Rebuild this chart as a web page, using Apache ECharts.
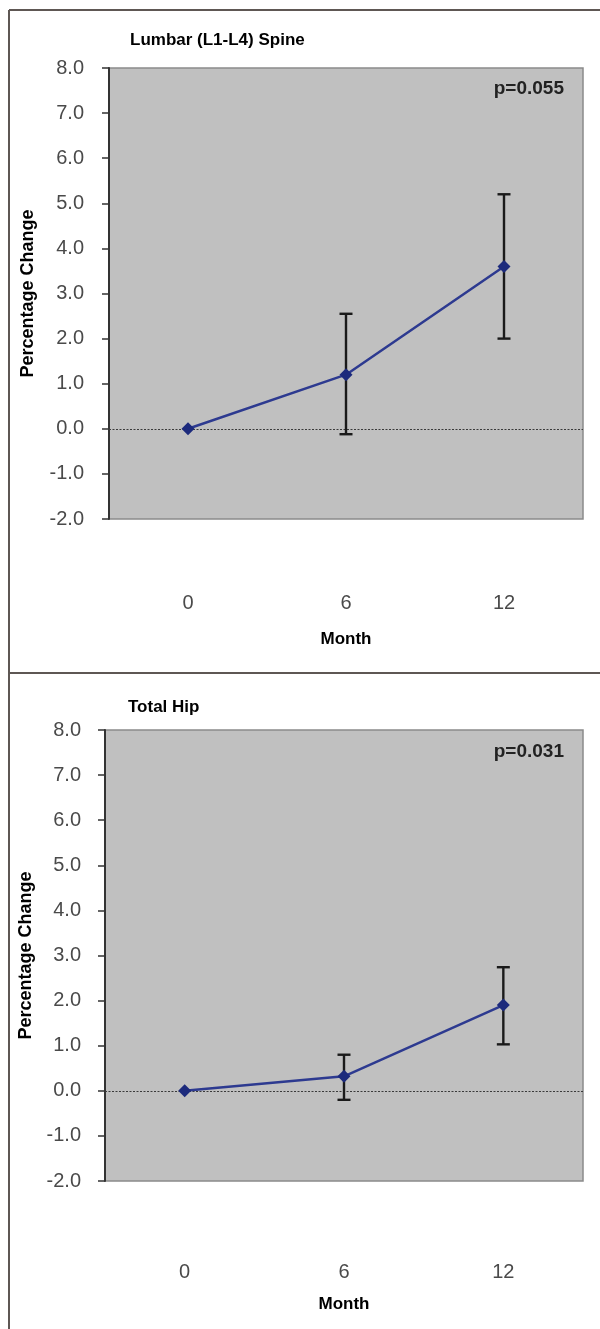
<!DOCTYPE html>
<html>
<head>
<meta charset="utf-8">
<script src="https://cdn.jsdelivr.net/npm/echarts@6/dist/echarts.min.js"></script>
<style>
html,body{margin:0;padding:0;background:#fff;}
#chart{width:600px;height:1329px;}
</style>
</head>
<body>
<div id="chart"></div>
<script>
// ---- data ----
const months = ['0', '6', '12'];
const panelTitles = ['Lumbar (L1-L4) Spine', 'Total Hip'];
const pValues = ['p=0.055', 'p=0.031'];
const spineMean = [0.0, 1.2, 3.6];
const spineLow  = [null, -0.12, 2.0];
const spineHigh = [null, 2.55, 5.2];
const hipMean = [0.0, 0.32, 1.9];
const hipLow  = [null, -0.2, 1.03];
const hipHigh = [null, 0.8, 2.74];
const yMin = -2, yMax = 8, yInterval = 1;
const yAxisName = 'Percentage Change';
const xAxisName = 'Month';

const FONT = '"Liberation Sans", Arial, Helvetica, sans-serif';

function errData(low, high) {
  const out = [];
  for (let i = 0; i < months.length; i++) {
    if (low[i] !== null && high[i] !== null) out.push([i, low[i], high[i]]);
  }
  return out;
}

function errSeries(idx, low, high) {
  return {
    type: 'custom',
    xAxisIndex: idx, yAxisIndex: idx,
    z: 2,
    silent: true,
    data: errData(low, high),
    renderItem: function (params, api) {
      const x = api.value(0);
      const pLo = api.coord([x, api.value(1)]);
      const pHi = api.coord([x, api.value(2)]);
      const cw = 6.5;
      const st = { stroke: '#1a1a1a', lineWidth: 2.4 };
      return {
        type: 'group',
        children: [
          { type: 'line', shape: { x1: pLo[0], y1: pLo[1], x2: pHi[0], y2: pHi[1] }, style: st },
          { type: 'line', shape: { x1: pHi[0] - cw, y1: pHi[1], x2: pHi[0] + cw, y2: pHi[1] }, style: st },
          { type: 'line', shape: { x1: pLo[0] - cw, y1: pLo[1], x2: pLo[0] + cw, y2: pLo[1] }, style: st }
        ]
      };
    }
  };
}

function lineSeries(idx, mean) {
  return {
    type: 'line',
    xAxisIndex: idx, yAxisIndex: idx,
    z: 3,
    data: mean,
    symbol: 'diamond',
    symbolSize: 13,
    itemStyle: { color: '#1c2a7c' },
    lineStyle: { color: '#2d3a90', width: 2.5 },
    silent: true,
    animation: false,
    markLine: {
      silent: true,
      symbol: ['none', 'none'],
      label: { show: false },
      lineStyle: { type: [2, 1.5], color: '#3a3a3a', width: 1.2 },
      data: [{ yAxis: 0 }],
      z: 1
    }
  };
}

function xAxis(idx, margin, nameGap) {
  return {
    type: 'category',
    gridIndex: idx,
    data: months,
    boundaryGap: true,
    axisLine: { show: false },
    axisTick: { show: false },
    axisLabel: { margin: margin, color: '#4a4a4a', fontSize: 20, fontFamily: FONT },
    name: xAxisName,
    nameLocation: 'middle',
    nameGap: nameGap,
    nameTextStyle: { color: '#000', fontSize: 17, fontWeight: 'bold', fontFamily: FONT },
    splitLine: { show: false }
  };
}

function yAxis(idx, nameGap, labelMargin) {
  return {
    type: 'value',
    gridIndex: idx,
    min: yMin, max: yMax, interval: yInterval,
    axisLine: { show: true, lineStyle: { color: '#333', width: 2 } },
    axisTick: { show: true, inside: false, length: 7, lineStyle: { color: '#333', width: 1.5 } },
    axisLabel: {
      margin: labelMargin, color: '#4a4a4a', fontSize: 20, fontFamily: FONT,
      formatter: function (v) { return v.toFixed(1); }
    },
    splitLine: { show: false },
    name: yAxisName,
    nameLocation: 'middle',
    nameRotate: 90,
    nameGap: nameGap,
    nameTextStyle: { color: '#000', fontSize: 18, fontWeight: 'bold', fontFamily: FONT }
  };
}

function txt(text, x, y, opts) {
  return {
    type: 'text', x: x, y: y, silent: true, z: 10,
    style: Object.assign({
      text: text, fill: '#000', font: 'bold 17px ' + FONT,
      align: 'left', verticalAlign: 'middle',
      textAlign: 'left', textVerticalAlign: 'middle'
    }, opts || {})
  };
}

const chart = echarts.init(document.getElementById('chart'), null, { renderer: 'canvas' });
chart.setOption({
  animation: false,
  backgroundColor: '#fff',
  grid: [
    { left: 109, top: 68, width: 474, height: 451, show: true, backgroundColor: '#c0c0c0', borderColor: '#8a8a8a', borderWidth: 1.5 },
    { left: 105, top: 730, width: 478, height: 451, show: true, backgroundColor: '#c0c0c0', borderColor: '#8a8a8a', borderWidth: 1.5 }
  ],
  xAxis: [xAxis(0, 74, 112), xAxis(1, 81, 115)],
  yAxis: [yAxis(0, 72, 25), yAxis(1, 70, 24)],
  series: [
    errSeries(0, spineLow, spineHigh),
    lineSeries(0, spineMean),
    errSeries(1, hipLow, hipHigh),
    lineSeries(1, hipMean)
  ],
  graphic: [
    { type: 'line', shape: { x1: 9, y1: 10, x2: 600, y2: 10 }, style: { stroke: '#5e5754', lineWidth: 2 }, silent: true },
    { type: 'line', shape: { x1: 9, y1: 10, x2: 9, y2: 1329 }, style: { stroke: '#5e5754', lineWidth: 2 }, silent: true },
    { type: 'line', shape: { x1: 9, y1: 673, x2: 600, y2: 673 }, style: { stroke: '#5e5754', lineWidth: 2 }, silent: true },
    txt(panelTitles[0], 130, 40),
    txt(panelTitles[1], 128, 707),
    txt(pValues[0], 564, 89, { align: 'right', textAlign: 'right', fill: '#222', font: 'bold 19px ' + FONT }),
    txt(pValues[1], 564, 752, { align: 'right', textAlign: 'right', fill: '#222', font: 'bold 19px ' + FONT })
  ]
});
</script>
</body>
</html>
